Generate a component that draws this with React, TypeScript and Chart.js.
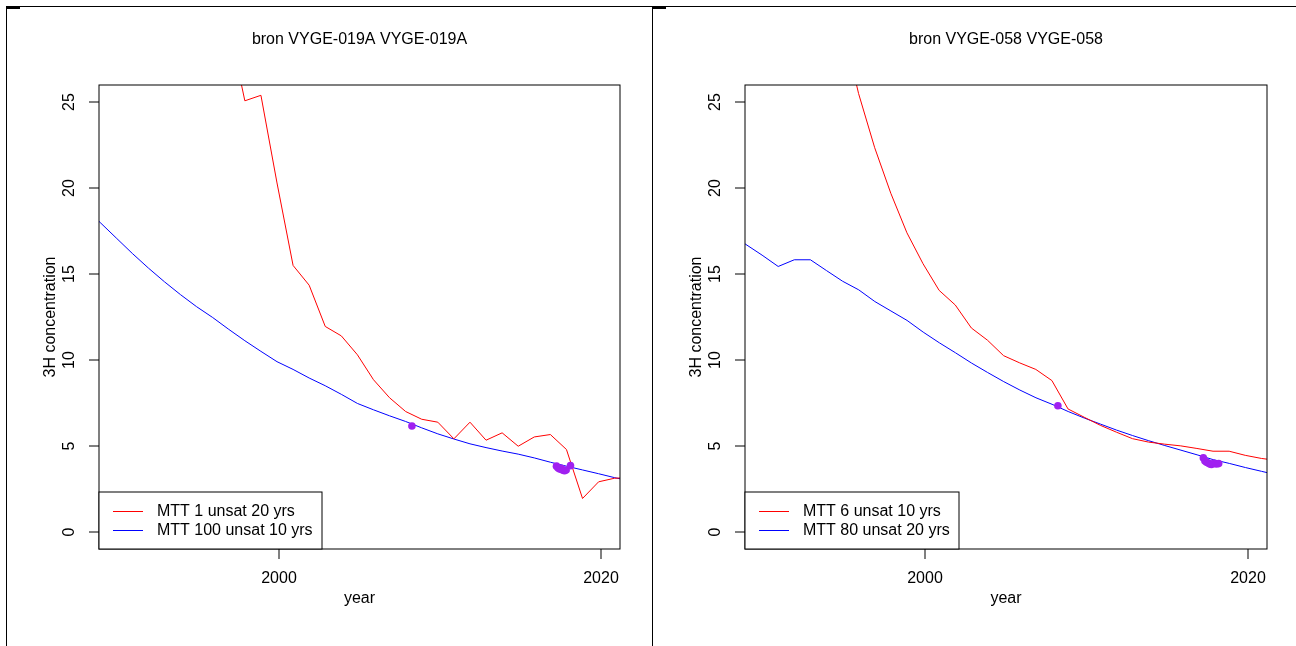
import { useEffect, useRef } from "react";
import { Chart, registerables } from "chart.js";

Chart.register(...registerables);

const FONT_FAMILY = '"Liberation Sans", Arial, Helvetica, sans-serif';
const RED = "#FF0000";
const BLUE = "#0000FF";
const PURPLE = "#A020F0";

const xTicks = [2000, 2020];
const yTicks = [0, 5, 10, 15, 20, 25];
const xLabel = "year";
const yLabel = "3H concentration";

// Spring VYGE-019A
const titleA = "bron VYGE-019A VYGE-019A";
const redLabelA = "MTT 1 unsat 20 yrs";
const blueLabelA = "MTT 100 unsat 10 yrs";
const redYearsA = [
  1996.87, 1997.87, 1998.87, 1999.87, 2000.87, 2001.87, 2002.87, 2003.87, 2004.87,
  2005.87, 2006.87, 2007.87, 2008.87, 2009.87, 2010.87, 2011.87, 2012.87, 2013.87,
  2014.87, 2015.87, 2016.87, 2017.87, 2018.87, 2019.87, 2020.87, 2021.87,
];
const redValuesA = [
  29.5, 25.08, 25.4, 20.3, 15.5, 14.35, 11.95, 11.4, 10.3,
  8.85, 7.8, 7.0, 6.55, 6.38, 5.41, 6.38, 5.33, 5.76,
  4.98, 5.52, 5.66, 4.79, 1.94, 2.91, 3.12, 3.15,
];
const blueYearsA = [
  1987.87, 1988.87, 1989.87, 1990.87, 1991.87, 1992.87, 1993.87, 1994.87, 1995.87,
  1996.87, 1997.87, 1998.87, 1999.87, 2000.87, 2001.87, 2002.87, 2003.87, 2004.87,
  2005.87, 2006.87, 2007.87, 2008.87, 2009.87, 2010.87, 2011.87, 2012.87, 2013.87,
  2014.87, 2015.87, 2016.87, 2017.87, 2018.87, 2019.87, 2020.87, 2021.87,
];
const blueValuesA = [
  18.9, 18.0, 17.1, 16.2, 15.35, 14.55, 13.8, 13.1, 12.47,
  11.78, 11.12, 10.5, 9.9, 9.45, 8.95, 8.5, 8.0, 7.47,
  7.1, 6.75, 6.42, 6.05, 5.7, 5.4, 5.12, 4.9, 4.7,
  4.52, 4.3, 4.05, 3.82, 3.6, 3.38, 3.15, 2.95,
];
const obsYearsA = [2008.26, 2017.25, 2017.35, 2017.45, 2017.55, 2017.65, 2017.75, 2017.85, 2018.12];
const obsValuesA = [6.16, 3.82, 3.72, 3.65, 3.7, 3.58, 3.55, 3.6, 3.85];

// Spring VYGE-058
const titleB = "bron VYGE-058 VYGE-058";
const redLabelB = "MTT 6 unsat 10 yrs";
const blueLabelB = "MTT 80 unsat 20 yrs";
const redYearsB = [
  1994.85, 1995.85, 1996.85, 1997.85, 1998.85, 1999.85, 2000.85, 2001.85, 2002.85,
  2003.85, 2004.85, 2005.85, 2006.85, 2007.85, 2008.85, 2009.85, 2010.85, 2011.85,
  2012.85, 2013.85, 2014.85, 2015.85, 2016.85, 2017.85, 2018.85, 2019.85, 2020.85,
  2021.85,
];
const redValuesB = [
  29.5, 25.5, 22.35, 19.7, 17.4, 15.6, 14.05, 13.2, 11.86,
  11.15, 10.25, 9.83, 9.45, 8.8, 7.15, 6.67, 6.2, 5.8,
  5.42, 5.22, 5.1, 5.0, 4.85, 4.69, 4.69, 4.45, 4.27,
  4.15,
];
const blueYearsB = [
  1987.86, 1988.86, 1989.86, 1990.86, 1991.86, 1992.86, 1993.86, 1994.86, 1995.86,
  1996.86, 1997.86, 1998.86, 1999.86, 2000.86, 2001.86, 2002.86, 2003.86, 2004.86,
  2005.86, 2006.86, 2007.86, 2008.86, 2009.86, 2010.86, 2011.86, 2012.86, 2013.86,
  2014.86, 2015.86, 2016.86, 2017.86, 2018.86, 2019.86, 2020.86, 2021.86,
];
const blueValuesB = [
  17.4, 16.72, 16.1, 15.44, 15.83, 15.83, 15.2, 14.58, 14.08,
  13.4, 12.85, 12.3, 11.62, 11.0, 10.42, 9.82, 9.27, 8.74,
  8.25, 7.8, 7.42, 7.0, 6.62, 6.27, 5.92, 5.6, 5.3,
  5.02, 4.75, 4.48, 4.2, 3.98, 3.74, 3.52, 3.3,
];
const obsYearsB = [2008.22, 2017.25, 2017.35, 2017.45, 2017.55, 2017.65, 2017.75, 2017.9, 2018.05, 2018.2];
const obsValuesB = [7.34, 4.3, 4.12, 4.05, 4.0, 3.95, 3.92, 3.98, 3.95, 3.97];

const X_MIN = 1988.8;
const X_MAX = 2021.2;
const Y_MIN = -1;
const Y_MAX = 26;

type PanelProps = {
  title: string;
  redLabel: string;
  blueLabel: string;
  redYears: number[];
  redValues: number[];
  blueYears: number[];
  blueValues: number[];
  obsYears: number[];
  obsValues: number[];
  width: number;
  height: number;
  padLeft: number;
  padRight: number;
};

const toPoints = (xs: number[], ys: number[]) => xs.map((x, i) => ({ x, y: ys[i] }));

function Panel(p: PanelProps) {
  const ref = useRef<HTMLCanvasElement | null>(null);

  useEffect(() => {
    const canvas = ref.current;
    if (!canvas) return;

    // Base-graphics style frame, ticks, labels, title and legend
    const decorations = {
      id: "baseDecorations",
      afterDraw(chart: any) {
        const { ctx, chartArea } = chart;
        const { left, right, top, bottom } = chartArea;
        const xs = chart.scales.x;
        const ys = chart.scales.y;
        ctx.save();
        ctx.font = `16px ${FONT_FAMILY}`;
        ctx.fillStyle = "#000";
        ctx.strokeStyle = "#000";
        ctx.lineWidth = 1;

        // plot box
        ctx.strokeRect(left, top, right - left, bottom - top);

        // y axis ticks and rotated labels
        ctx.textAlign = "center";
        ctx.textBaseline = "middle";
        for (const v of yTicks) {
          const py = Math.round(ys.getPixelForValue(v));
          ctx.beginPath();
          ctx.moveTo(left, py);
          ctx.lineTo(left - 10, py);
          ctx.stroke();
          ctx.save();
          ctx.translate(left - 29, py);
          ctx.rotate(-Math.PI / 2);
          ctx.fillText(String(v), 0, 0);
          ctx.restore();
        }

        // x axis ticks and labels
        for (const v of xTicks) {
          const px = Math.round(xs.getPixelForValue(v));
          ctx.beginPath();
          ctx.moveTo(px, bottom);
          ctx.lineTo(px, bottom + 10);
          ctx.stroke();
          ctx.fillText(String(v), px, bottom + 30);
        }

        // axis titles
        const cx = (left + right) / 2;
        ctx.fillText(xLabel, cx, bottom + 50);
        ctx.save();
        ctx.translate(left - 48, (top + bottom) / 2);
        ctx.rotate(-Math.PI / 2);
        ctx.fillText(yLabel, 0, 0);
        ctx.restore();

        // main title
        ctx.fillText(p.title, cx, 40);

        // legend box in the lower-left corner
        const labels = [p.redLabel, p.blueLabel];
        const colors = [RED, BLUE];
        const textW = Math.max(...labels.map((l) => ctx.measureText(l).width));
        const boxW = Math.round(14 + 30 + 14 + textW + 9);
        const boxH = 57;
        const bx = left;
        const by = bottom - boxH;
        ctx.fillStyle = "#fff";
        ctx.fillRect(bx, by, boxW, boxH);
        ctx.strokeStyle = "#000";
        ctx.strokeRect(bx, by, boxW, boxH);
        ctx.textAlign = "left";
        labels.forEach((l, i) => {
          const ry = by + 19 * (i + 1);
          ctx.strokeStyle = colors[i];
          ctx.beginPath();
          ctx.moveTo(bx + 14, ry + 0.5);
          ctx.lineTo(bx + 44, ry + 0.5);
          ctx.stroke();
          ctx.fillStyle = "#000";
          ctx.fillText(l, bx + 58, ry + 1);
        });
        ctx.restore();
      },
    };

    const chart = new Chart(canvas, {
      type: "scatter",
      data: {
        datasets: [
          {
            label: "observed",
            data: toPoints(p.obsYears, p.obsValues),
            showLine: false,
            pointRadius: 3.8,
            pointBorderWidth: 0,
            pointBackgroundColor: PURPLE,
            borderColor: PURPLE,
            backgroundColor: PURPLE,
          },
          {
            label: p.redLabel,
            data: toPoints(p.redYears, p.redValues),
            showLine: true,
            borderColor: RED,
            borderWidth: 1,
            pointRadius: 0,
            tension: 0,
          },
          {
            label: p.blueLabel,
            data: toPoints(p.blueYears, p.blueValues),
            showLine: true,
            borderColor: BLUE,
            borderWidth: 1,
            pointRadius: 0,
            tension: 0,
          },
        ],
      },
      options: {
        animation: false,
        responsive: false,
        events: [],
        layout: {
          padding: { left: p.padLeft, right: p.padRight, top: 85, bottom: p.height - 549 },
        },
        plugins: {
          legend: { display: false },
          tooltip: { enabled: false },
          title: { display: false },
        },
        scales: {
          x: { type: "linear", min: X_MIN, max: X_MAX, display: false },
          y: { type: "linear", min: Y_MIN, max: Y_MAX, display: false },
        },
      },
      plugins: [decorations],
    });

    return () => chart.destroy();
  }, []);

  return <canvas ref={ref} width={p.width} height={p.height} style={{ display: "block" }} />;
}

export default function App() {
  const frameLine = "1.5px solid #000";
  return (
    <div
      style={{
        position: "absolute",
        left: 0,
        top: 0,
        width: 1296,
        height: 646,
        background: "#fff",
        overflow: "hidden",
      }}
    >
      <div style={{ position: "absolute", left: 0, top: 0 }}>
        <Panel
          title={titleA}
          redLabel={redLabelA}
          blueLabel={blueLabelA}
          redYears={redYearsA}
          redValues={redValuesA}
          blueYears={blueYearsA}
          blueValues={blueValuesA}
          obsYears={obsYearsA}
          obsValues={obsValuesA}
          width={652}
          height={646}
          padLeft={99}
          padRight={32}
        />
      </div>
      <div style={{ position: "absolute", left: 652, top: 0 }}>
        <Panel
          title={titleB}
          redLabel={redLabelB}
          blueLabel={blueLabelB}
          redYears={redYearsB}
          redValues={redValuesB}
          blueYears={blueYearsB}
          blueValues={blueValuesB}
          obsYears={obsYearsB}
          obsValues={obsValuesB}
          width={644}
          height={646}
          padLeft={93}
          padRight={29}
        />
      </div>
      <div style={{ position: "absolute", left: 6, top: 6, width: 646, height: 640, borderLeft: frameLine, borderTop: frameLine, boxSizing: "border-box" }} />
      <div style={{ position: "absolute", left: 652, top: 6, width: 644, height: 640, borderLeft: frameLine, borderTop: frameLine, boxSizing: "border-box" }} />
      <div style={{ position: "absolute", left: 6, top: 6, width: 14, height: 3, background: "#000" }} />
      <div style={{ position: "absolute", left: 652, top: 6, width: 14, height: 3, background: "#000" }} />
    </div>
  );
}
